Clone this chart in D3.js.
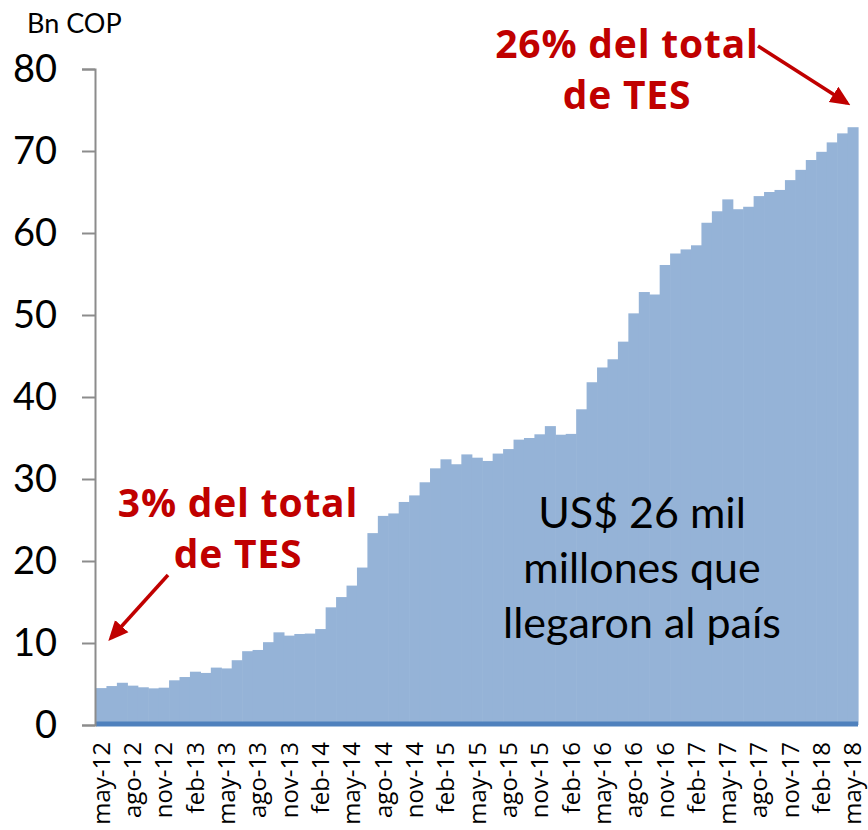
<!DOCTYPE html>
<html>
<head>
<meta charset="utf-8">
<script src="https://cdnjs.cloudflare.com/ajax/libs/d3/7.8.5/d3.min.js"></script>
<style>
	body { margin: 0; background: #fff; }
	svg { display: block; }
</style>
</head>
<body>
<svg id="chart"></svg>
<script>
// month names used for the category labels
const monthNames = ["ene", "feb", "mar", "abr", "may", "jun", "jul", "ago", "sep", "oct", "nov", "dic"];
const startMonth = 4, startYear = 12, monthCount = 73;

// stock in Bn COP (may-12 .. may-18)
const values = [
	4.5, 4.75, 5.15, 4.8, 4.6, 4.47, 4.55, 5.45, 5.85, 6.5,
	6.35, 7.0, 6.9, 7.9, 9.0, 9.15, 10.1, 11.3, 10.9, 11.1,
	11.15, 11.7, 14.35, 15.6, 17.0, 19.2, 23.4, 25.5, 25.8, 27.2,
	28.0, 29.6, 31.3, 32.4, 31.8, 33.0, 32.6, 32.2, 33.1, 33.65,
	34.8, 35.0, 35.45, 36.45, 35.4, 35.5, 38.5, 41.8, 43.6, 44.6,
	46.75, 50.2, 52.8, 52.5, 56.1, 57.5, 58.0, 58.5, 61.25, 62.65,
	64.1, 62.9, 63.2, 64.5, 65.0, 65.25, 66.45, 67.7, 68.9, 69.9,
	71.05, 72.15, 72.9
];

const yTicks = [0, 10, 20, 30, 40, 50, 60, 70, 80];
const unitLabel = "Bn COP";
const noteStart = ["3% del total", "de TES"];
const noteEnd = ["26% del total", "de TES"];
const noteBody = ["US$ 26 mil", "millones que", "llegaron al país"];

let categories = [];
for (let i = 0; i < monthCount; i++)
{
	let m = (startMonth + i) % 12;
	let y = startYear + Math.floor((startMonth + i) / 12);
	categories.push(monthNames[m] + "-" + y);
}
let data = categories.map((c, i) => ({ month: c, value: values[i] }));

let svgWidth = 868, svgHeight = 830;
let svg = d3.select("#chart")
	.attr("width", svgWidth)
	.attr("height", svgHeight)
	.style("font-family", "Lato, 'Open Sans', sans-serif");

//scales
let x = d3.scaleBand()
	.domain(categories)
	.range([96, 858])
	.padding(0);
let y = d3.scaleLinear()
	.domain([0, 80])
	.range([725, 69]);

//bars
svg.append("g")
	.selectAll("rect")
	.data(data)
	.enter()
	.append("rect")
	.attr("x", d => x(d.month))
	.attr("y", d => y(d.value))
	.attr("width", x.bandwidth() + 0.6)
	.attr("height", d => y(0) - y(d.value))
	.attr("fill", "#95b3d7");

//baseline series
svg.append("line")
	.attr("x1", x.range()[0])
	.attr("x2", x.range()[1])
	.attr("y1", y(0) - 1)
	.attr("y2", y(0) - 1)
	.attr("stroke", "#4f81bd")
	.attr("stroke-width", 5);

//y axis
let yAxis = svg.append("g")
	.attr("transform", "translate(95,0)")
	.call(d3.axisLeft(y).tickValues(yTicks).tickSize(13).tickPadding(25));
yAxis.select(".domain").attr("stroke", "#8c8c8c").attr("stroke-width", 2);
yAxis.selectAll(".tick line").attr("stroke", "#8c8c8c").attr("stroke-width", 2);
yAxis.selectAll(".tick text")
	.attr("font-size", 38)
	.attr("font-family", "Lato, sans-serif")
	.attr("fill", "#000");

//x axis labels every 3 months
let xAxis = svg.append("g")
	.attr("transform", "translate(0," + y(0) + ")")
	.call(d3.axisBottom(x).tickValues(categories.filter((c, i) => i % 3 === 0)).tickSize(0));
xAxis.select(".domain").remove();
xAxis.selectAll(".tick text")
	.attr("transform", "rotate(-90)")
	.attr("text-anchor", "end")
	.attr("x", -17)
	.attr("y", 0)
	.attr("dy", "0.36em")
	.attr("font-size", 24)
	.attr("font-family", "'Open Sans', sans-serif")
	.attr("fill", "#000");

//unit label
svg.append("text")
	.attr("x", 27)
	.attr("y", 33)
	.attr("font-size", 27)
	.text(unitLabel);

//arrow marker
svg.append("defs")
	.append("marker")
	.attr("id", "arrow")
	.attr("viewBox", "0 0 10 10")
	.attr("refX", 8)
	.attr("refY", 5)
	.attr("markerUnits", "userSpaceOnUse")
	.attr("markerWidth", 20)
	.attr("markerHeight", 20)
	.attr("orient", "auto")
	.append("path")
	.attr("d", "M0,0.5 L10,5 L0,9.5 Z")
	.attr("fill", "#c00000");

let redNote = function (lines, cx, y0)
{
	lines.forEach((t, i) =>
	{
		svg.append("text")
			.attr("x", cx)
			.attr("y", y0 + i * 51)
			.attr("text-anchor", "middle")
			.attr("font-size", 39)
			.attr("font-weight", "bold")
			.attr("font-family", "'Open Sans', sans-serif")
			.attr("letter-spacing", 0.8)
			.attr("fill", "#c00000")
			.text(t);
	});
};

redNote(noteEnd, 627, 58);
redNote(noteStart, 238, 517);

svg.append("line")
	.attr("x1", 758).attr("y1", 46)
	.attr("x2", 847).attr("y2", 103)
	.attr("stroke", "#c00000")
	.attr("stroke-width", 3.5)
	.attr("marker-end", "url(#arrow)");

svg.append("line")
	.attr("x1", 168).attr("y1", 575)
	.attr("x2", 111).attr("y2", 638)
	.attr("stroke", "#c00000")
	.attr("stroke-width", 3.5)
	.attr("marker-end", "url(#arrow)");

//body note
noteBody.forEach((t, i) =>
{
	svg.append("text")
		.attr("x", 642)
		.attr("y", 528 + i * 55)
		.attr("text-anchor", "middle")
		.attr("font-size", 43)
		.attr("fill", "#000")
		.text(t);
});
</script>
</body>
</html>
